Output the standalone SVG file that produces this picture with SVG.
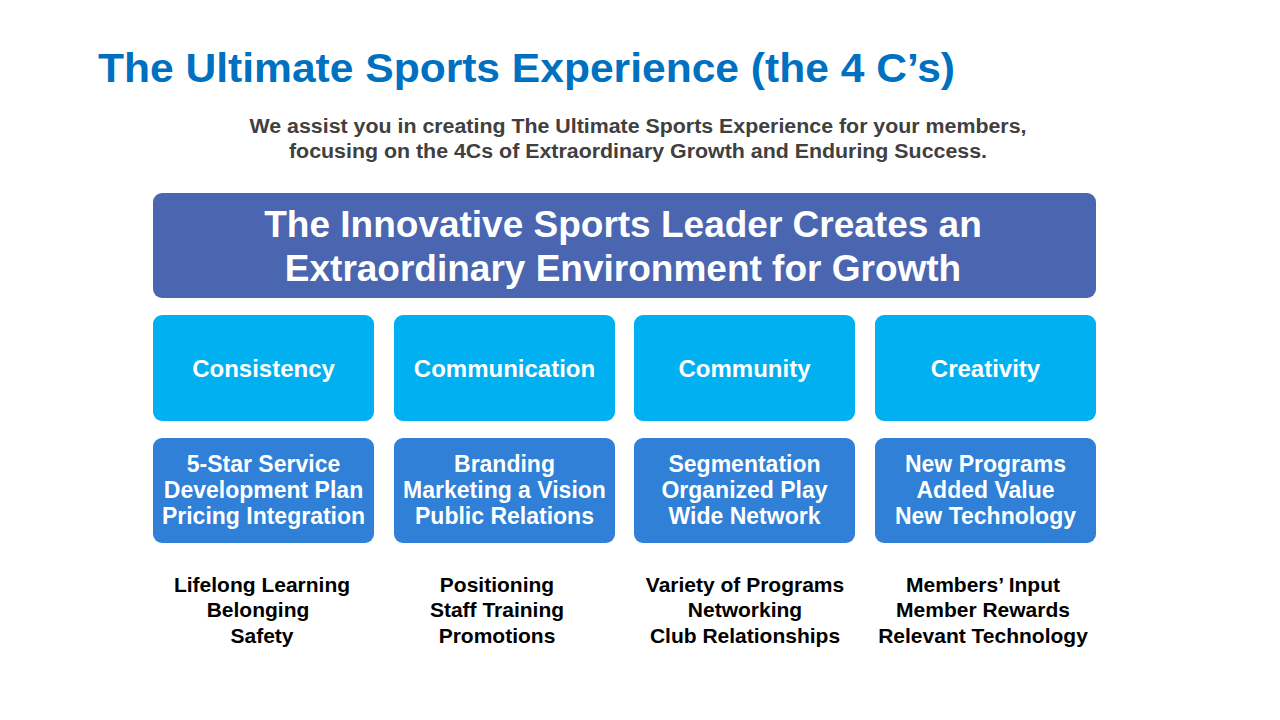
<svg xmlns="http://www.w3.org/2000/svg" width="1280" height="720" viewBox="0 0 1280 720">
<style>
.t{font-family:"Liberation Sans",Arial,sans-serif;font-weight:bold}
.title{font-size:40px;fill:#0070C0}
.sub{font-size:20px;fill:#404040;text-anchor:middle}
.ban{font-size:37px;fill:#fff;text-anchor:middle}
.lc{font-size:24px;fill:#fff;text-anchor:middle}
.dk{font-size:23px;fill:#fff;text-anchor:middle}
.bt{font-size:21px;fill:#000;text-anchor:middle}
.b0{fill:#4A66B0}
.b1{fill:#00B0F0}
.b2{fill:#2F80D6}
</style>
<rect width="1280" height="720" fill="#fff"/>
<text class="t title" x="98" y="82" textLength="857" lengthAdjust="spacingAndGlyphs">The Ultimate Sports Experience (the 4 C’s)</text>
<text class="t sub" x="638" y="133" textLength="777" lengthAdjust="spacingAndGlyphs">We assist you in creating The Ultimate Sports Experience for your members,</text>
<text class="t sub" x="638" y="158" textLength="698" lengthAdjust="spacingAndGlyphs">focusing on the 4Cs of Extraordinary Growth and Enduring Success.</text>
<g id="banner">
<rect class="b0" x="153" y="193" width="943" height="105" rx="9"/>
<text class="t ban" x="623" y="237">The Innovative Sports Leader Creates an</text>
<text class="t ban" x="623" y="281">Extraordinary Environment for Growth</text>
</g>
<g id="consistency"><rect class="b1" x="153" y="315" width="221" height="106" rx="9"/><text class="t lc" x="263.5" y="377">Consistency</text></g>
<g id="communication"><rect class="b1" x="394" y="315" width="221" height="106" rx="9"/><text class="t lc" x="504.5" y="377">Communication</text></g>
<g id="community"><rect class="b1" x="634" y="315" width="221" height="106" rx="9"/><text class="t lc" x="744.5" y="377">Community</text></g>
<g id="creativity"><rect class="b1" x="875" y="315" width="221" height="106" rx="9"/><text class="t lc" x="985.5" y="377">Creativity</text></g>
<g id="d1"><rect class="b2" x="153" y="438" width="221" height="105" rx="9"/>
<text class="t dk" x="263.5" y="472">5-Star Service</text><text class="t dk" x="263.5" y="498">Development Plan</text><text class="t dk" x="263.5" y="524">Pricing Integration</text></g>
<g id="d2"><rect class="b2" x="394" y="438" width="221" height="105" rx="9"/>
<text class="t dk" x="504.5" y="472">Branding</text><text class="t dk" x="504.5" y="498">Marketing a Vision</text><text class="t dk" x="504.5" y="524">Public Relations</text></g>
<g id="d3"><rect class="b2" x="634" y="438" width="221" height="105" rx="9"/>
<text class="t dk" x="744.5" y="472">Segmentation</text><text class="t dk" x="744.5" y="498">Organized Play</text><text class="t dk" x="744.5" y="524">Wide Network</text></g>
<g id="d4"><rect class="b2" x="875" y="438" width="221" height="105" rx="9"/>
<text class="t dk" x="985.5" y="472">New Programs</text><text class="t dk" x="985.5" y="498">Added Value</text><text class="t dk" x="985.5" y="524">New Technology</text></g>
<g id="l1"><text class="t bt" x="262" y="592">Lifelong Learning</text><text class="t bt" x="258" y="617">Belonging</text><text class="t bt" x="262" y="643">Safety</text></g>
<g id="l2"><text class="t bt" x="497" y="592">Positioning</text><text class="t bt" x="497" y="617">Staff Training</text><text class="t bt" x="497" y="643">Promotions</text></g>
<g id="l3"><text class="t bt" x="745" y="592">Variety of Programs</text><text class="t bt" x="745" y="617">Networking</text><text class="t bt" x="745" y="643">Club Relationships</text></g>
<g id="l4"><text class="t bt" x="983" y="592">Members’ Input</text><text class="t bt" x="983" y="617">Member Rewards</text><text class="t bt" x="983" y="643">Relevant Technology</text></g>
<g id="connectors"></g>
</svg>
